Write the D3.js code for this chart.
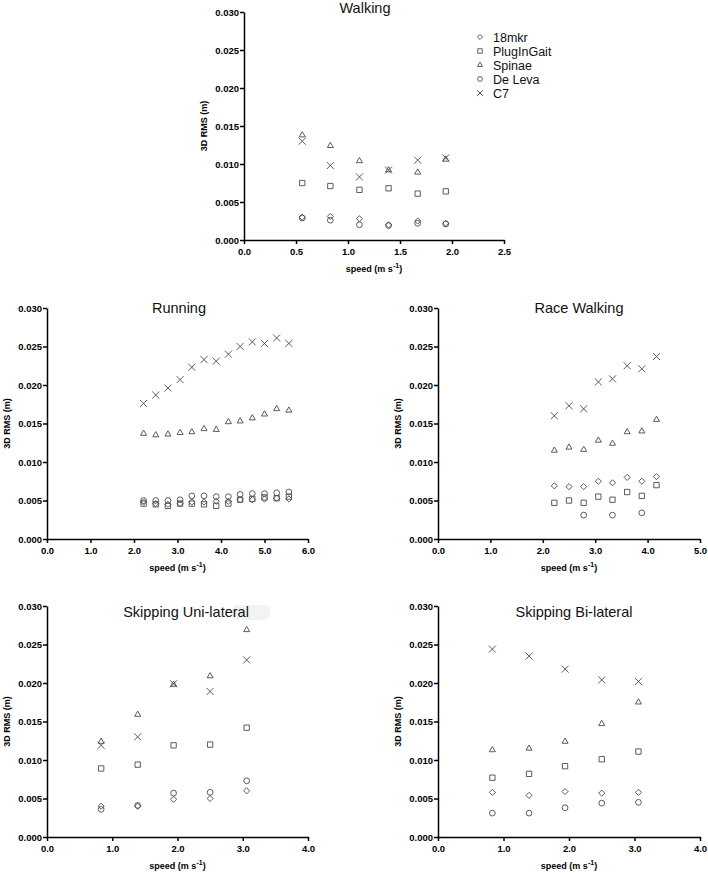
<!DOCTYPE html>
<html><head><meta charset="utf-8">
<script src="https://cdn.jsdelivr.net/npm/d3@7"></script>
<style>
body{margin:0;background:#fff;}
svg{display:block;}
.tk text{font-family:"Liberation Sans",Arial,sans-serif;font-weight:bold;font-size:9.5px;fill:#000;}
.tk path,.tk line{stroke:#000;stroke-width:1.5px;}
.ttl{font-family:"Liberation Sans",Arial,sans-serif;font-size:14.5px;fill:#111;}
.axt{font-family:"Liberation Sans",Arial,sans-serif;font-weight:bold;font-size:9px;fill:#000;}
.leg{font-family:"Liberation Sans",Arial,sans-serif;font-size:12.5px;fill:#111;}
</style></head>
<body>
<script>
// ---- data ----
const seriesNames = ["18mkr","PlugInGait","Spinae","De Leva","C7"];
const yTicks = [0,0.005,0.010,0.015,0.020,0.025,0.030];

const walkSpeed   = [0.56,0.83,1.11,1.39,1.67,1.94];
const walk18mkr   = [0.0030,0.0031,0.0028,0.0020,0.0025,0.0022];
const walkPIG     = [0.0075,0.0071,0.0066,0.0068,0.0061,0.0064];
const walkSpinae  = [0.0138,0.0124,0.0104,0.0092,0.0089,0.0106];
const walkDeLeva  = [0.0029,0.0026,0.0020,0.0019,0.0022,0.0021];
const walkC7      = [0.0130,0.0098,0.0083,0.0092,0.0105,0.0108];
const walkXTicks  = [0,0.5,1.0,1.5,2.0,2.5];

const runSpeed    = [2.22,2.50,2.78,3.06,3.33,3.61,3.89,4.17,4.44,4.72,5.00,5.28,5.56];
const run18mkr    = [0.0048,0.0046,0.0045,0.0046,0.0048,0.0048,0.0049,0.0049,0.0051,0.0051,0.0052,0.0053,0.0052];
const runPIG      = [0.0046,0.0045,0.0043,0.0046,0.0046,0.0045,0.0043,0.0046,0.0051,0.0052,0.0054,0.0053,0.0055];
const runSpinae   = [0.0137,0.0135,0.0136,0.0138,0.0139,0.0143,0.0142,0.0152,0.0153,0.0157,0.0162,0.0169,0.0167];
const runDeLeva   = [0.0050,0.0050,0.0050,0.0051,0.0056,0.0056,0.0055,0.0055,0.0058,0.0059,0.0059,0.0060,0.0061];
const runC7       = [0.0176,0.0187,0.0196,0.0207,0.0223,0.0233,0.0231,0.0240,0.0250,0.0256,0.0254,0.0261,0.0254];
const runXTicks   = [0,1,2,3,4,5,6];

const rwSpeed     = [2.22,2.50,2.78,3.06,3.33,3.61,3.89,4.17];
const rw18mkr     = [0.0069,0.0068,0.0068,0.0075,0.0073,0.0080,0.0075,0.0081];
const rwPIG       = [0.0047,0.0050,0.0047,0.0055,0.0051,0.0061,0.0056,0.0070];
const rwSpinae    = [0.0115,0.0119,0.0116,0.0128,0.0124,0.0139,0.0140,0.0155];
const rwDeLeva    = [null,null,0.0031,null,0.0031,null,0.0034,null];
const rwC7        = [0.0160,0.0173,0.0169,0.0204,0.0208,0.0225,0.0221,0.0237];
const rwXTicks    = [0,1,2,3,4,5];

const skipSpeed   = [0.83,1.39,1.94,2.50,3.06];
const su18mkr     = [0.0040,0.0040,0.0049,0.0050,0.0060];
const suPIG       = [0.0089,0.0094,0.0119,0.0120,0.0142];
const suSpinae    = [0.0124,0.0159,0.0198,0.0209,0.0269];
const suDeLeva    = [0.0036,0.0041,0.0057,0.0058,0.0073];
const suC7        = [0.0119,0.0130,0.0199,0.0189,0.0230];

const sb18mkr     = [0.0058,0.0054,0.0059,0.0057,0.0058];
const sbPIG       = [0.0077,0.0082,0.0092,0.0101,0.0111];
const sbSpinae    = [0.0113,0.0115,0.0124,0.0147,0.0175];
const sbDeLeva    = [0.0031,0.0031,0.0038,0.0044,0.0045];
const sbC7        = [0.0244,0.0235,0.0218,0.0204,0.0202];
const skipXTicks  = [0,1,2,3,4];

// ---- rendering ----
const W = 708, H = 873;
const svg = d3.select("body").append("svg").attr("width",W).attr("height",H);

const symTypes = [d3.symbolDiamond2, d3.symbolSquare2, d3.symbolTriangle2, d3.symbolCircle, d3.symbolTimes];
const symSizes = [24, 36, 26, 26, 34];
const markColor = "#4a4a4a";
function sym(i){ return d3.symbol().type(symTypes[i]).size(symSizes[i])(); }

function panel(o){
  const g = svg.append("g");
  const x = d3.scaleLinear().domain([0, o.xTicks[o.xTicks.length-1]]).range([o.left, o.right]);
  const y = d3.scaleLinear().domain([0, 0.030]).range([o.bottom, o.top]);
  g.append("g").attr("class","tk").attr("transform",`translate(0,${o.bottom})`)
    .call(d3.axisBottom(x).tickValues(o.xTicks).tickFormat(d3.format(".1f")).tickSize(4).tickSizeOuter(0).tickPadding(4));
  g.append("g").attr("class","tk").attr("transform",`translate(${o.left},0)`)
    .call(d3.axisLeft(y).tickValues(yTicks).tickFormat(d3.format(".3f")).tickSize(4).tickSizeOuter(0).tickPadding(1));
  // axis titles
  const xt = g.append("text").attr("class","axt").attr("text-anchor","middle")
    .attr("x",(o.left+o.right)/2).attr("y",o.bottom+32);
  xt.append("tspan").text("speed (m s");
  xt.append("tspan").attr("dy",-4).attr("font-size","7px").text("-1");
  xt.append("tspan").attr("dy",4).text(")");
  g.append("text").attr("class","axt").attr("text-anchor","middle")
    .attr("transform",`translate(${o.left-37},${(o.top+o.bottom)/2}) rotate(-90)`).text("3D RMS (m)");
  if(o.hl){
    g.append("rect").attr("x",o.hl[0]).attr("y",o.hl[1]).attr("width",o.hl[2]).attr("height",o.hl[3])
      .attr("rx",5).attr("fill","#f3f3f3");
  }
  g.append("text").attr("class","ttl").attr("text-anchor","middle").attr("x",o.tx).attr("y",o.ty).text(o.title);
  // marks
  o.series.forEach((vals,i)=>{
    const pts = o.speed.map((s,j)=>({s, v: vals[j]})).filter(d=>d.v!=null);
    g.append("g").selectAll("path").data(pts).join("path")
      .attr("d", sym(i))
      .attr("transform", d=>`translate(${x(d.s)},${y(d.v)})`)
      .attr("fill","none").attr("stroke",markColor).attr("stroke-width",0.9);
  });
}

panel({title:"Walking", left:244,right:504,top:12,bottom:240, tx:365, ty:13,
  xTicks:walkXTicks, speed:walkSpeed, series:[walk18mkr,walkPIG,walkSpinae,walkDeLeva,walkC7]});
panel({title:"Running", left:47,right:308,top:308,bottom:539, tx:179, ty:313,
  xTicks:runXTicks, speed:runSpeed, series:[run18mkr,runPIG,runSpinae,runDeLeva,runC7]});
panel({title:"Race Walking", left:438,right:700,top:308,bottom:539, tx:579, ty:313,
  xTicks:rwXTicks, speed:rwSpeed, series:[rw18mkr,rwPIG,rwSpinae,rwDeLeva,rwC7]});
panel({title:"Skipping  Uni-lateral", left:47,right:308,top:606,bottom:837, tx:186, ty:617,
  xTicks:skipXTicks, speed:skipSpeed, series:[su18mkr,suPIG,suSpinae,suDeLeva,suC7], hl:[232,605,38,15]});
panel({title:"Skipping Bi-lateral", left:438,right:700,top:606,bottom:837, tx:574, ty:617,
  xTicks:skipXTicks, speed:skipSpeed, series:[sb18mkr,sbPIG,sbSpinae,sbDeLeva,sbC7]});

// legend (Walking panel)
const leg = svg.append("g");
seriesNames.forEach((n,i)=>{
  const yy = 37 + i*14;
  leg.append("path").attr("d", d3.symbol().type(symTypes[i]).size(symSizes[i]*0.7)())
    .attr("transform",`translate(480,${yy})`).attr("fill","none").attr("stroke",markColor).attr("stroke-width",0.9);
  leg.append("text").attr("class","leg").attr("x",493).attr("y",yy+4.5).text(n);
});
</script>
</body></html>
